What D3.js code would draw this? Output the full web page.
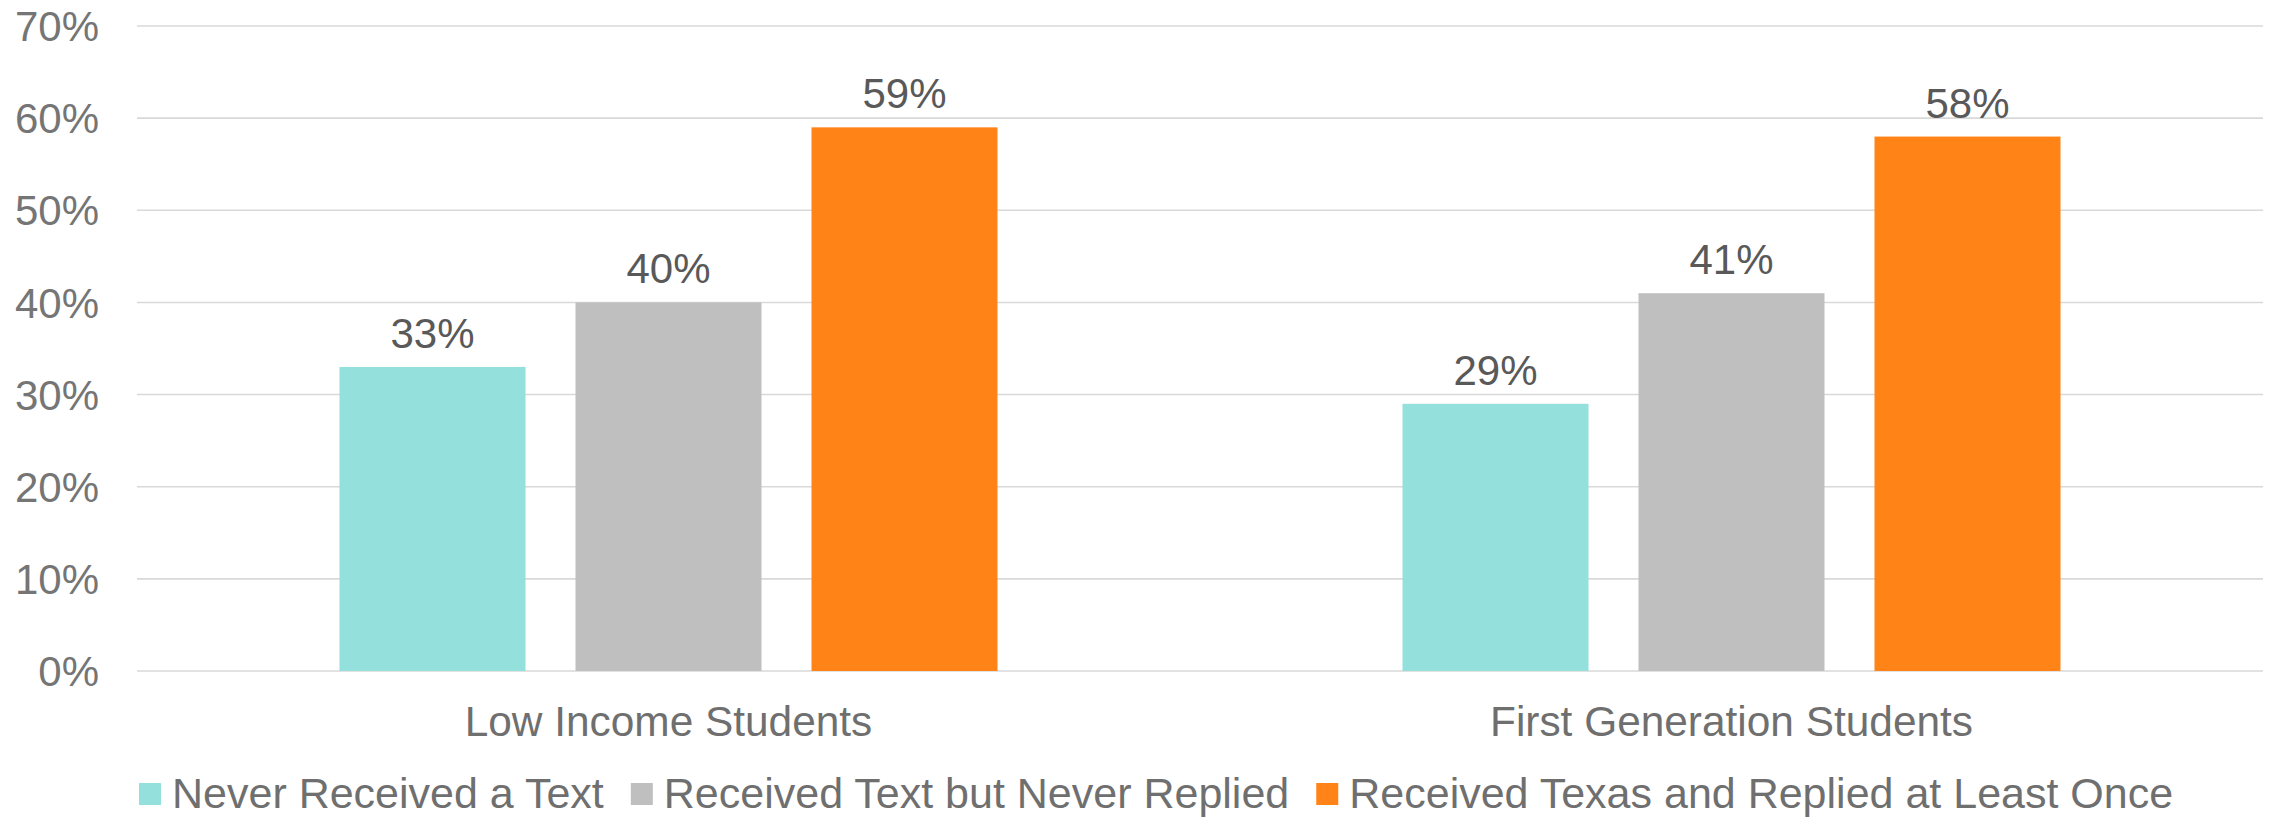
<!DOCTYPE html>
<html>
<head>
<meta charset="utf-8">
<script src="https://cdn.jsdelivr.net/npm/d3@7"></script>
<style>
  html, body { margin: 0; padding: 0; background: #fff; }
  svg { display: block; font-family: "Liberation Sans", Arial, sans-serif; }
</style>
</head>
<body>
<svg id="chart" width="2277" height="818"></svg>
<script>
const categories = ["Low Income Students", "First Generation Students"];
const seriesNames = ["Never Received a Text", "Received Text but Never Replied", "Received Texas and Replied at Least Once"];
const neverReceived = [33, 29];
const receivedNoReply = [40, 41];
const receivedReplied = [59, 58];
const yTicks = [0, 10, 20, 30, 40, 50, 60, 70];
const colors = ["#94E0DC", "#BFBFBF", "#FF8316"];

(function () {
const seriesValues = [neverReceived, receivedNoReply, receivedReplied];

const svg = d3.select("#chart");
const plotLeft = 137, plotRight = 2263, plotTop = 26, plotBottom = 671;

const y = d3.scaleLinear().domain([0, 70]).range([plotBottom, plotTop]);
const x0 = d3.scaleBand().domain(categories).range([plotLeft, plotRight]).padding(0);
const bandW = x0.bandwidth();
const inner = 658;
const x1 = d3.scaleBand().domain(d3.range(seriesNames.length))
  .range([(bandW - inner) / 2, (bandW + inner) / 2]).paddingInner(50 / 236).paddingOuter(0);

// gridlines
svg.append("g").selectAll("line").data(yTicks).join("line")
  .attr("x1", plotLeft).attr("x2", plotRight)
  .attr("y1", d => y(d)).attr("y2", d => y(d))
  .attr("stroke", "#D9D9D9").attr("stroke-width", 1.6);

// y axis labels
const yAxis = d3.axisLeft(y).tickValues(yTicks).tickFormat(d => d + "%").tickSize(0).tickPadding(0);
const yg = svg.append("g").attr("transform", "translate(99,0)").call(yAxis);
yg.select(".domain").remove();
yg.selectAll("text").attr("font-size", 42).attr("fill", "#757575")
  .attr("font-family", "'Liberation Sans', Arial, sans-serif").attr("dy", "0.35em");

// bars
const groups = svg.append("g").selectAll("g").data(categories).join("g")
  .attr("transform", d => `translate(${x0(d)},0)`);

groups.each(function (cat, ci) {
  const g = d3.select(this);
  seriesValues.forEach((vals, si) => {
    g.append("rect")
      .attr("x", x1(si)).attr("width", x1.bandwidth())
      .attr("y", y(vals[ci])).attr("height", y(0) - y(vals[ci]))
      .attr("fill", colors[si]);
    g.append("text")
      .attr("x", x1(si) + x1.bandwidth() / 2)
      .attr("y", y(vals[ci]) - 19)
      .attr("text-anchor", "middle")
      .attr("font-size", 42).attr("fill", "#595959")
      .text(vals[ci] + "%");
  });
});

// category labels
svg.append("g").selectAll("text").data(categories).join("text")
  .attr("x", d => x0(d) + bandW / 2).attr("y", 736)
  .attr("text-anchor", "middle").attr("font-size", 42.4).attr("fill", "#6F6F6F")
  .text(d => d);

// legend
const leg = svg.append("g");
let lx = 139;
seriesNames.forEach((name, i) => {
  leg.append("rect").attr("x", lx).attr("y", 783).attr("width", 22).attr("height", 22).attr("fill", colors[i]);
  const t = leg.append("text").attr("x", lx + 33).attr("y", 808)
    .attr("font-size", 43).attr("fill", "#6F6F6F").text(name);
  const w = t.node().getComputedTextLength();
  lx = lx + 33 + w + 27;
});
})();
</script>
</body>
</html>
